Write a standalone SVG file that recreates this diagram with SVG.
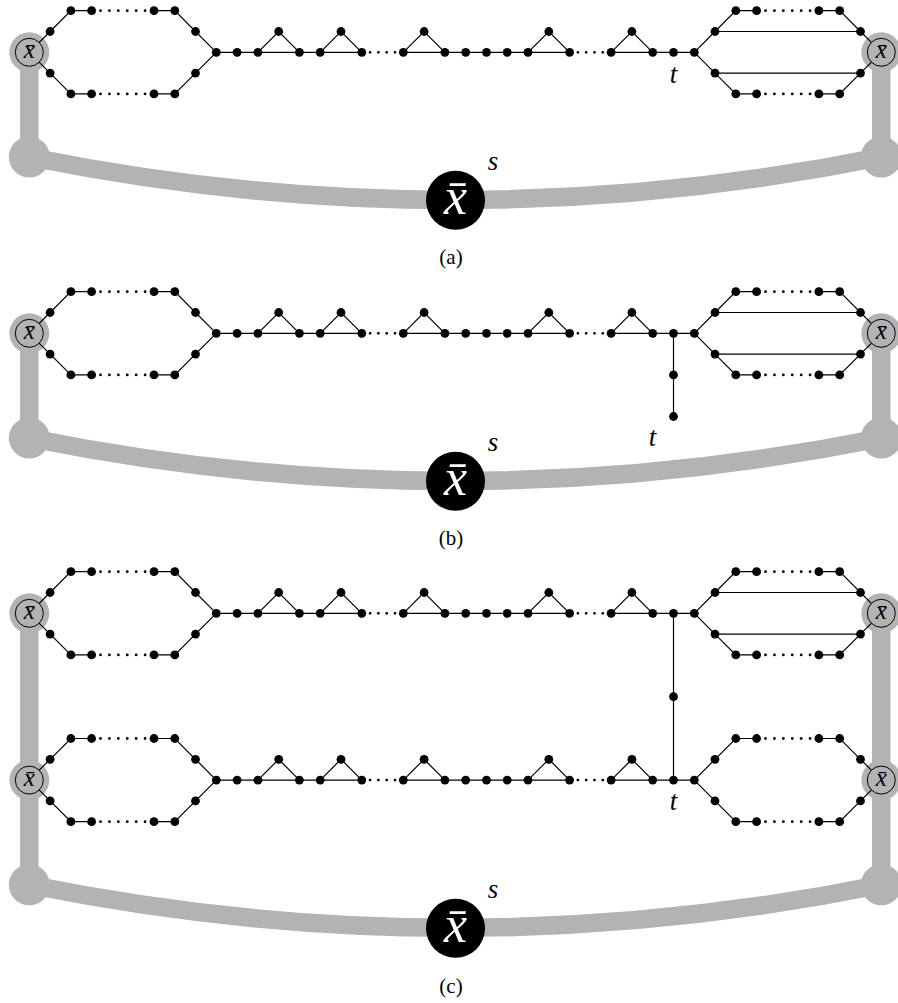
<svg xmlns="http://www.w3.org/2000/svg" width="898" height="1003" viewBox="0 0 898 1003">
<style>
.e{stroke:#000;stroke-width:1.2;fill:none}
.d{stroke:#000;stroke-width:2.8;stroke-linecap:round;fill:none}
.dh{stroke-dasharray:0 8.914}
.dc{stroke-dasharray:0 8.3}
.v{fill:#000}
.g{stroke:#b3b3b3;stroke-width:18.5;fill:none}
.gf{fill:#b3b3b3}
.xs{fill:#b3b3b3;stroke:#000;stroke-width:1}
.xt{font-family:"Liberation Serif","DejaVu Serif",serif;font-style:italic;font-size:25px;text-anchor:middle;fill:#000}
.bt{font-family:"Liberation Serif","DejaVu Serif",serif;font-style:italic;font-size:52px;text-anchor:middle;fill:#fff}
.lb{font-family:"Liberation Serif","DejaVu Serif",serif;font-style:italic;font-size:27px;text-anchor:middle;fill:#000}
.cap{font-family:"Liberation Serif","DejaVu Serif",serif;font-size:21px;text-anchor:middle;fill:#000}
</style>
<rect width="898" height="1003" fill="#fff"/>
<g id="grey">
<line class="g" x1="29.3" y1="52.3" x2="29.3" y2="157"/>
<line class="g" x1="881.3" y1="52.3" x2="881.3" y2="157"/>
<path class="g" d="M29.3,157 Q455.3,243 881.3,157"/>
<circle class="gf" cx="29.3" cy="157" r="20.5"/>
<circle class="gf" cx="881.3" cy="157" r="20.5"/>
<circle class="gf" cx="29.3" cy="52.3" r="20"/>
<circle class="gf" cx="881.3" cy="52.3" r="20"/>
<line class="g" x1="29.3" y1="333.3" x2="29.3" y2="438"/>
<line class="g" x1="881.3" y1="333.3" x2="881.3" y2="438"/>
<path class="g" d="M29.3,438 Q455.3,524 881.3,438"/>
<circle class="gf" cx="29.3" cy="438" r="20.5"/>
<circle class="gf" cx="881.3" cy="438" r="20.5"/>
<circle class="gf" cx="29.3" cy="333.3" r="20"/>
<circle class="gf" cx="881.3" cy="333.3" r="20"/>
<line class="g" x1="29.3" y1="613.3" x2="29.3" y2="884.8"/>
<line class="g" x1="881.3" y1="613.3" x2="881.3" y2="884.8"/>
<path class="g" d="M29.3,884.8 Q455.3,970.8 881.3,884.8"/>
<circle class="gf" cx="29.3" cy="884.8" r="20.5"/>
<circle class="gf" cx="881.3" cy="884.8" r="20.5"/>
<circle class="gf" cx="29.3" cy="613.3" r="20"/>
<circle class="gf" cx="881.3" cy="613.3" r="20"/>
<circle class="gf" cx="29.3" cy="780.1" r="20"/>
<circle class="gf" cx="881.3" cy="780.1" r="20"/>
</g>
<defs>
<g id="hexL">
<polyline class="e" points="29.3,0 50.1,-20.8 70.9,-41.6 91.6,-41.6"/>
<polyline class="e" points="154,-41.6 174.8,-41.6 195.5,-20.8 216.3,0"/>
<polyline class="e" points="29.3,0 50.1,20.8 70.9,41.6 91.6,41.6"/>
<polyline class="e" points="154,41.6 174.8,41.6 195.5,20.8 216.3,0"/>
<line class="d dh" x1="91.6" y1="-41.6" x2="154" y2="-41.6"/>
<line class="d dh" x1="91.6" y1="41.6" x2="154" y2="41.6"/>
</g>
<g id="chain">
<line class="e" x1="216.3" y1="0" x2="361.8" y2="0"/>
<polyline class="e" points="257.9,0 278.7,-20.8 299.4,0"/>
<polyline class="e" points="320.2,0 341,-20.8 361.8,0"/>
<line class="d dc" x1="361.8" y1="0" x2="403.3" y2="0"/>
<line class="e" x1="403.3" y1="0" x2="569.6" y2="0"/>
<polyline class="e" points="403.3,0 424.1,-20.8 444.9,0"/>
<polyline class="e" points="528,0 548.8,-20.8 569.6,0"/>
<line class="d dc" x1="569.6" y1="0" x2="611.1" y2="0"/>
<line class="e" x1="611.1" y1="0" x2="694.3" y2="0"/>
<polyline class="e" points="611.1,0 631.9,-20.8 652.7,0"/>
</g>
<g id="hexR">
<polyline class="e" points="694.3,0 715,-20.8 735.8,-41.6 756.6,-41.6"/>
<polyline class="e" points="818.9,-41.6 839.7,-41.6 860.5,-20.8 881.3,0"/>
<polyline class="e" points="694.3,0 715,20.8 735.8,41.6 756.6,41.6"/>
<polyline class="e" points="818.9,41.6 839.7,41.6 860.5,20.8 881.3,0"/>
<line class="d dh" x1="756.6" y1="-41.6" x2="818.9" y2="-41.6"/>
<line class="d dh" x1="756.6" y1="41.6" x2="818.9" y2="41.6"/>
</g>
<g id="bars">
<line class="e" x1="715" y1="-20.8" x2="860.5" y2="-20.8"/>
<line class="e" x1="715" y1="20.8" x2="860.5" y2="20.8"/>
</g>
</defs>
<g id="connectors">
<g transform="translate(0,52.3)"><use href="#hexL"/><use href="#chain"/><use href="#hexR"/><use href="#bars"/></g>
<g transform="translate(0,333.3)"><use href="#hexL"/><use href="#chain"/><use href="#hexR"/><use href="#bars"/>
<line class="e" x1="673.5" y1="0" x2="673.5" y2="83.2"/></g>
<g transform="translate(0,613.3)"><use href="#hexL"/><use href="#chain"/><use href="#hexR"/><use href="#bars"/>
<line class="e" x1="673.5" y1="0" x2="673.5" y2="166.8"/></g>
<g transform="translate(0,780.1)"><use href="#hexL"/><use href="#chain"/><use href="#hexR"/></g>
</g>

<g transform="translate(0,52.3)">
<g id="a-xL"><circle class="xs" cx="29.3" cy="0" r="14"/><text class="xt" x="29.3" y="6">x&#x304;</text></g>
<g id="a-L1t"><circle class="v" cx="50.1" cy="-20.8" r="4.4"/></g>
<g id="a-L2t"><circle class="v" cx="70.9" cy="-41.6" r="4.4"/></g>
<g id="a-L3t"><circle class="v" cx="91.6" cy="-41.6" r="4.4"/></g>
<g id="a-L6t"><circle class="v" cx="154" cy="-41.6" r="4.4"/></g>
<g id="a-L7t"><circle class="v" cx="174.8" cy="-41.6" r="4.4"/></g>
<g id="a-L8t"><circle class="v" cx="195.5" cy="-20.8" r="4.4"/></g>
<g id="a-L1b"><circle class="v" cx="50.1" cy="20.8" r="4.4"/></g>
<g id="a-L2b"><circle class="v" cx="70.9" cy="41.6" r="4.4"/></g>
<g id="a-L3b"><circle class="v" cx="91.6" cy="41.6" r="4.4"/></g>
<g id="a-L6b"><circle class="v" cx="154" cy="41.6" r="4.4"/></g>
<g id="a-L7b"><circle class="v" cx="174.8" cy="41.6" r="4.4"/></g>
<g id="a-L8b"><circle class="v" cx="195.5" cy="20.8" r="4.4"/></g>
<g id="a-c9"><circle class="v" cx="216.3" cy="0" r="4.4"/></g>
<g id="a-c10"><circle class="v" cx="237.1" cy="0" r="4.4"/></g>
<g id="a-c11"><circle class="v" cx="257.9" cy="0" r="4.4"/></g>
<g id="a-c12"><circle class="v" cx="278.7" cy="-20.8" r="4.4"/></g>
<g id="a-c13"><circle class="v" cx="299.4" cy="0" r="4.4"/></g>
<g id="a-c14"><circle class="v" cx="320.2" cy="0" r="4.4"/></g>
<g id="a-c15"><circle class="v" cx="341" cy="-20.8" r="4.4"/></g>
<g id="a-c16"><circle class="v" cx="361.8" cy="0" r="4.4"/></g>
<g id="a-c18"><circle class="v" cx="403.3" cy="0" r="4.4"/></g>
<g id="a-c19"><circle class="v" cx="424.1" cy="-20.8" r="4.4"/></g>
<g id="a-c20"><circle class="v" cx="444.9" cy="0" r="4.4"/></g>
<g id="a-c21"><circle class="v" cx="465.7" cy="0" r="4.4"/></g>
<g id="a-c22"><circle class="v" cx="486.5" cy="0" r="4.4"/></g>
<g id="a-c23"><circle class="v" cx="507.2" cy="0" r="4.4"/></g>
<g id="a-c24"><circle class="v" cx="528" cy="0" r="4.4"/></g>
<g id="a-c25"><circle class="v" cx="548.8" cy="-20.8" r="4.4"/></g>
<g id="a-c26"><circle class="v" cx="569.6" cy="0" r="4.4"/></g>
<g id="a-c28"><circle class="v" cx="611.1" cy="0" r="4.4"/></g>
<g id="a-c29"><circle class="v" cx="631.9" cy="-20.8" r="4.4"/></g>
<g id="a-c30"><circle class="v" cx="652.7" cy="0" r="4.4"/></g>
<g id="a-t"><circle class="v" cx="673.5" cy="0" r="4.4"/><text class="lb" x="673.5" y="30.5">t</text></g>
<g id="a-c32"><circle class="v" cx="694.3" cy="0" r="4.4"/></g>
<g id="a-R1t"><circle class="v" cx="715" cy="-20.8" r="4.4"/></g>
<g id="a-R2t"><circle class="v" cx="735.8" cy="-41.6" r="4.4"/></g>
<g id="a-R3t"><circle class="v" cx="756.6" cy="-41.6" r="4.4"/></g>
<g id="a-R6t"><circle class="v" cx="818.9" cy="-41.6" r="4.4"/></g>
<g id="a-R7t"><circle class="v" cx="839.7" cy="-41.6" r="4.4"/></g>
<g id="a-R8t"><circle class="v" cx="860.5" cy="-20.8" r="4.4"/></g>
<g id="a-R1b"><circle class="v" cx="715" cy="20.8" r="4.4"/></g>
<g id="a-R2b"><circle class="v" cx="735.8" cy="41.6" r="4.4"/></g>
<g id="a-R3b"><circle class="v" cx="756.6" cy="41.6" r="4.4"/></g>
<g id="a-R6b"><circle class="v" cx="818.9" cy="41.6" r="4.4"/></g>
<g id="a-R7b"><circle class="v" cx="839.7" cy="41.6" r="4.4"/></g>
<g id="a-R8b"><circle class="v" cx="860.5" cy="20.8" r="4.4"/></g>
<g id="a-xR"><circle class="xs" cx="881.3" cy="0" r="14"/><text class="xt" x="881.3" y="6">x&#x304;</text></g>
</g>
<g id="a-s"><circle class="v" cx="455.5" cy="200.3" r="29.5"/><text class="bt" x="455.5" y="213.5">x&#x304;</text><text class="lb" x="493" y="169.5">s</text></g>
<text class="cap" x="451" y="264">(a)</text>

<g transform="translate(0,333.3)">
<g id="b-xL"><circle class="xs" cx="29.3" cy="0" r="14"/><text class="xt" x="29.3" y="6">x&#x304;</text></g>
<g id="b-L1t"><circle class="v" cx="50.1" cy="-20.8" r="4.4"/></g>
<g id="b-L2t"><circle class="v" cx="70.9" cy="-41.6" r="4.4"/></g>
<g id="b-L3t"><circle class="v" cx="91.6" cy="-41.6" r="4.4"/></g>
<g id="b-L6t"><circle class="v" cx="154" cy="-41.6" r="4.4"/></g>
<g id="b-L7t"><circle class="v" cx="174.8" cy="-41.6" r="4.4"/></g>
<g id="b-L8t"><circle class="v" cx="195.5" cy="-20.8" r="4.4"/></g>
<g id="b-L1b"><circle class="v" cx="50.1" cy="20.8" r="4.4"/></g>
<g id="b-L2b"><circle class="v" cx="70.9" cy="41.6" r="4.4"/></g>
<g id="b-L3b"><circle class="v" cx="91.6" cy="41.6" r="4.4"/></g>
<g id="b-L6b"><circle class="v" cx="154" cy="41.6" r="4.4"/></g>
<g id="b-L7b"><circle class="v" cx="174.8" cy="41.6" r="4.4"/></g>
<g id="b-L8b"><circle class="v" cx="195.5" cy="20.8" r="4.4"/></g>
<g id="b-c9"><circle class="v" cx="216.3" cy="0" r="4.4"/></g>
<g id="b-c10"><circle class="v" cx="237.1" cy="0" r="4.4"/></g>
<g id="b-c11"><circle class="v" cx="257.9" cy="0" r="4.4"/></g>
<g id="b-c12"><circle class="v" cx="278.7" cy="-20.8" r="4.4"/></g>
<g id="b-c13"><circle class="v" cx="299.4" cy="0" r="4.4"/></g>
<g id="b-c14"><circle class="v" cx="320.2" cy="0" r="4.4"/></g>
<g id="b-c15"><circle class="v" cx="341" cy="-20.8" r="4.4"/></g>
<g id="b-c16"><circle class="v" cx="361.8" cy="0" r="4.4"/></g>
<g id="b-c18"><circle class="v" cx="403.3" cy="0" r="4.4"/></g>
<g id="b-c19"><circle class="v" cx="424.1" cy="-20.8" r="4.4"/></g>
<g id="b-c20"><circle class="v" cx="444.9" cy="0" r="4.4"/></g>
<g id="b-c21"><circle class="v" cx="465.7" cy="0" r="4.4"/></g>
<g id="b-c22"><circle class="v" cx="486.5" cy="0" r="4.4"/></g>
<g id="b-c23"><circle class="v" cx="507.2" cy="0" r="4.4"/></g>
<g id="b-c24"><circle class="v" cx="528" cy="0" r="4.4"/></g>
<g id="b-c25"><circle class="v" cx="548.8" cy="-20.8" r="4.4"/></g>
<g id="b-c26"><circle class="v" cx="569.6" cy="0" r="4.4"/></g>
<g id="b-c28"><circle class="v" cx="611.1" cy="0" r="4.4"/></g>
<g id="b-c29"><circle class="v" cx="631.9" cy="-20.8" r="4.4"/></g>
<g id="b-c30"><circle class="v" cx="652.7" cy="0" r="4.4"/></g>
<g id="b-c31"><circle class="v" cx="673.5" cy="0" r="4.4"/></g>
<g id="b-p1"><circle class="v" cx="673.5" cy="41.6" r="4.4"/></g>
<g id="b-t"><circle class="v" cx="673.5" cy="83.2" r="4.4"/><text class="lb" x="652.5" y="113.2">t</text></g>
<g id="b-c32"><circle class="v" cx="694.3" cy="0" r="4.4"/></g>
<g id="b-R1t"><circle class="v" cx="715" cy="-20.8" r="4.4"/></g>
<g id="b-R2t"><circle class="v" cx="735.8" cy="-41.6" r="4.4"/></g>
<g id="b-R3t"><circle class="v" cx="756.6" cy="-41.6" r="4.4"/></g>
<g id="b-R6t"><circle class="v" cx="818.9" cy="-41.6" r="4.4"/></g>
<g id="b-R7t"><circle class="v" cx="839.7" cy="-41.6" r="4.4"/></g>
<g id="b-R8t"><circle class="v" cx="860.5" cy="-20.8" r="4.4"/></g>
<g id="b-R1b"><circle class="v" cx="715" cy="20.8" r="4.4"/></g>
<g id="b-R2b"><circle class="v" cx="735.8" cy="41.6" r="4.4"/></g>
<g id="b-R3b"><circle class="v" cx="756.6" cy="41.6" r="4.4"/></g>
<g id="b-R6b"><circle class="v" cx="818.9" cy="41.6" r="4.4"/></g>
<g id="b-R7b"><circle class="v" cx="839.7" cy="41.6" r="4.4"/></g>
<g id="b-R8b"><circle class="v" cx="860.5" cy="20.8" r="4.4"/></g>
<g id="b-xR"><circle class="xs" cx="881.3" cy="0" r="14"/><text class="xt" x="881.3" y="6">x&#x304;</text></g>
</g>
<g id="b-s"><circle class="v" cx="455.5" cy="481.3" r="29.5"/><text class="bt" x="455.5" y="494.5">x&#x304;</text><text class="lb" x="493" y="450.5">s</text></g>
<text class="cap" x="451" y="545">(b)</text>

<g transform="translate(0,613.3)">
<g id="c-xL"><circle class="xs" cx="29.3" cy="0" r="14"/><text class="xt" x="29.3" y="6">x&#x304;</text></g>
<g id="c-L1t"><circle class="v" cx="50.1" cy="-20.8" r="4.4"/></g>
<g id="c-L2t"><circle class="v" cx="70.9" cy="-41.6" r="4.4"/></g>
<g id="c-L3t"><circle class="v" cx="91.6" cy="-41.6" r="4.4"/></g>
<g id="c-L6t"><circle class="v" cx="154" cy="-41.6" r="4.4"/></g>
<g id="c-L7t"><circle class="v" cx="174.8" cy="-41.6" r="4.4"/></g>
<g id="c-L8t"><circle class="v" cx="195.5" cy="-20.8" r="4.4"/></g>
<g id="c-L1b"><circle class="v" cx="50.1" cy="20.8" r="4.4"/></g>
<g id="c-L2b"><circle class="v" cx="70.9" cy="41.6" r="4.4"/></g>
<g id="c-L3b"><circle class="v" cx="91.6" cy="41.6" r="4.4"/></g>
<g id="c-L6b"><circle class="v" cx="154" cy="41.6" r="4.4"/></g>
<g id="c-L7b"><circle class="v" cx="174.8" cy="41.6" r="4.4"/></g>
<g id="c-L8b"><circle class="v" cx="195.5" cy="20.8" r="4.4"/></g>
<g id="c-c9"><circle class="v" cx="216.3" cy="0" r="4.4"/></g>
<g id="c-c10"><circle class="v" cx="237.1" cy="0" r="4.4"/></g>
<g id="c-c11"><circle class="v" cx="257.9" cy="0" r="4.4"/></g>
<g id="c-c12"><circle class="v" cx="278.7" cy="-20.8" r="4.4"/></g>
<g id="c-c13"><circle class="v" cx="299.4" cy="0" r="4.4"/></g>
<g id="c-c14"><circle class="v" cx="320.2" cy="0" r="4.4"/></g>
<g id="c-c15"><circle class="v" cx="341" cy="-20.8" r="4.4"/></g>
<g id="c-c16"><circle class="v" cx="361.8" cy="0" r="4.4"/></g>
<g id="c-c18"><circle class="v" cx="403.3" cy="0" r="4.4"/></g>
<g id="c-c19"><circle class="v" cx="424.1" cy="-20.8" r="4.4"/></g>
<g id="c-c20"><circle class="v" cx="444.9" cy="0" r="4.4"/></g>
<g id="c-c21"><circle class="v" cx="465.7" cy="0" r="4.4"/></g>
<g id="c-c22"><circle class="v" cx="486.5" cy="0" r="4.4"/></g>
<g id="c-c23"><circle class="v" cx="507.2" cy="0" r="4.4"/></g>
<g id="c-c24"><circle class="v" cx="528" cy="0" r="4.4"/></g>
<g id="c-c25"><circle class="v" cx="548.8" cy="-20.8" r="4.4"/></g>
<g id="c-c26"><circle class="v" cx="569.6" cy="0" r="4.4"/></g>
<g id="c-c28"><circle class="v" cx="611.1" cy="0" r="4.4"/></g>
<g id="c-c29"><circle class="v" cx="631.9" cy="-20.8" r="4.4"/></g>
<g id="c-c30"><circle class="v" cx="652.7" cy="0" r="4.4"/></g>
<g id="c-c31"><circle class="v" cx="673.5" cy="0" r="4.4"/></g>
<g id="c-m"><circle class="v" cx="673.5" cy="83.4" r="4.4"/></g>
<g id="c-c32"><circle class="v" cx="694.3" cy="0" r="4.4"/></g>
<g id="c-R1t"><circle class="v" cx="715" cy="-20.8" r="4.4"/></g>
<g id="c-R2t"><circle class="v" cx="735.8" cy="-41.6" r="4.4"/></g>
<g id="c-R3t"><circle class="v" cx="756.6" cy="-41.6" r="4.4"/></g>
<g id="c-R6t"><circle class="v" cx="818.9" cy="-41.6" r="4.4"/></g>
<g id="c-R7t"><circle class="v" cx="839.7" cy="-41.6" r="4.4"/></g>
<g id="c-R8t"><circle class="v" cx="860.5" cy="-20.8" r="4.4"/></g>
<g id="c-R1b"><circle class="v" cx="715" cy="20.8" r="4.4"/></g>
<g id="c-R2b"><circle class="v" cx="735.8" cy="41.6" r="4.4"/></g>
<g id="c-R3b"><circle class="v" cx="756.6" cy="41.6" r="4.4"/></g>
<g id="c-R6b"><circle class="v" cx="818.9" cy="41.6" r="4.4"/></g>
<g id="c-R7b"><circle class="v" cx="839.7" cy="41.6" r="4.4"/></g>
<g id="c-R8b"><circle class="v" cx="860.5" cy="20.8" r="4.4"/></g>
<g id="c-xR"><circle class="xs" cx="881.3" cy="0" r="14"/><text class="xt" x="881.3" y="6">x&#x304;</text></g>
</g>

<g transform="translate(0,780.1)">
<g id="d-xL"><circle class="xs" cx="29.3" cy="0" r="14"/><text class="xt" x="29.3" y="6">x&#x304;</text></g>
<g id="d-L1t"><circle class="v" cx="50.1" cy="-20.8" r="4.4"/></g>
<g id="d-L2t"><circle class="v" cx="70.9" cy="-41.6" r="4.4"/></g>
<g id="d-L3t"><circle class="v" cx="91.6" cy="-41.6" r="4.4"/></g>
<g id="d-L6t"><circle class="v" cx="154" cy="-41.6" r="4.4"/></g>
<g id="d-L7t"><circle class="v" cx="174.8" cy="-41.6" r="4.4"/></g>
<g id="d-L8t"><circle class="v" cx="195.5" cy="-20.8" r="4.4"/></g>
<g id="d-L1b"><circle class="v" cx="50.1" cy="20.8" r="4.4"/></g>
<g id="d-L2b"><circle class="v" cx="70.9" cy="41.6" r="4.4"/></g>
<g id="d-L3b"><circle class="v" cx="91.6" cy="41.6" r="4.4"/></g>
<g id="d-L6b"><circle class="v" cx="154" cy="41.6" r="4.4"/></g>
<g id="d-L7b"><circle class="v" cx="174.8" cy="41.6" r="4.4"/></g>
<g id="d-L8b"><circle class="v" cx="195.5" cy="20.8" r="4.4"/></g>
<g id="d-c9"><circle class="v" cx="216.3" cy="0" r="4.4"/></g>
<g id="d-c10"><circle class="v" cx="237.1" cy="0" r="4.4"/></g>
<g id="d-c11"><circle class="v" cx="257.9" cy="0" r="4.4"/></g>
<g id="d-c12"><circle class="v" cx="278.7" cy="-20.8" r="4.4"/></g>
<g id="d-c13"><circle class="v" cx="299.4" cy="0" r="4.4"/></g>
<g id="d-c14"><circle class="v" cx="320.2" cy="0" r="4.4"/></g>
<g id="d-c15"><circle class="v" cx="341" cy="-20.8" r="4.4"/></g>
<g id="d-c16"><circle class="v" cx="361.8" cy="0" r="4.4"/></g>
<g id="d-c18"><circle class="v" cx="403.3" cy="0" r="4.4"/></g>
<g id="d-c19"><circle class="v" cx="424.1" cy="-20.8" r="4.4"/></g>
<g id="d-c20"><circle class="v" cx="444.9" cy="0" r="4.4"/></g>
<g id="d-c21"><circle class="v" cx="465.7" cy="0" r="4.4"/></g>
<g id="d-c22"><circle class="v" cx="486.5" cy="0" r="4.4"/></g>
<g id="d-c23"><circle class="v" cx="507.2" cy="0" r="4.4"/></g>
<g id="d-c24"><circle class="v" cx="528" cy="0" r="4.4"/></g>
<g id="d-c25"><circle class="v" cx="548.8" cy="-20.8" r="4.4"/></g>
<g id="d-c26"><circle class="v" cx="569.6" cy="0" r="4.4"/></g>
<g id="d-c28"><circle class="v" cx="611.1" cy="0" r="4.4"/></g>
<g id="d-c29"><circle class="v" cx="631.9" cy="-20.8" r="4.4"/></g>
<g id="d-c30"><circle class="v" cx="652.7" cy="0" r="4.4"/></g>
<g id="d-t"><circle class="v" cx="673.5" cy="0" r="4.4"/><text class="lb" x="673.5" y="30.3">t</text></g>
<g id="d-c32"><circle class="v" cx="694.3" cy="0" r="4.4"/></g>
<g id="d-R1t"><circle class="v" cx="715" cy="-20.8" r="4.4"/></g>
<g id="d-R2t"><circle class="v" cx="735.8" cy="-41.6" r="4.4"/></g>
<g id="d-R3t"><circle class="v" cx="756.6" cy="-41.6" r="4.4"/></g>
<g id="d-R6t"><circle class="v" cx="818.9" cy="-41.6" r="4.4"/></g>
<g id="d-R7t"><circle class="v" cx="839.7" cy="-41.6" r="4.4"/></g>
<g id="d-R8t"><circle class="v" cx="860.5" cy="-20.8" r="4.4"/></g>
<g id="d-R1b"><circle class="v" cx="715" cy="20.8" r="4.4"/></g>
<g id="d-R2b"><circle class="v" cx="735.8" cy="41.6" r="4.4"/></g>
<g id="d-R3b"><circle class="v" cx="756.6" cy="41.6" r="4.4"/></g>
<g id="d-R6b"><circle class="v" cx="818.9" cy="41.6" r="4.4"/></g>
<g id="d-R7b"><circle class="v" cx="839.7" cy="41.6" r="4.4"/></g>
<g id="d-R8b"><circle class="v" cx="860.5" cy="20.8" r="4.4"/></g>
<g id="d-xR"><circle class="xs" cx="881.3" cy="0" r="14"/><text class="xt" x="881.3" y="6">x&#x304;</text></g>
</g>
<g id="c-s"><circle class="v" cx="455.5" cy="928.3" r="29.5"/><text class="bt" x="455.5" y="941.5">x&#x304;</text><text class="lb" x="493" y="897.5">s</text></g>
<text class="cap" x="451" y="992.5">(c)</text>
</svg>
